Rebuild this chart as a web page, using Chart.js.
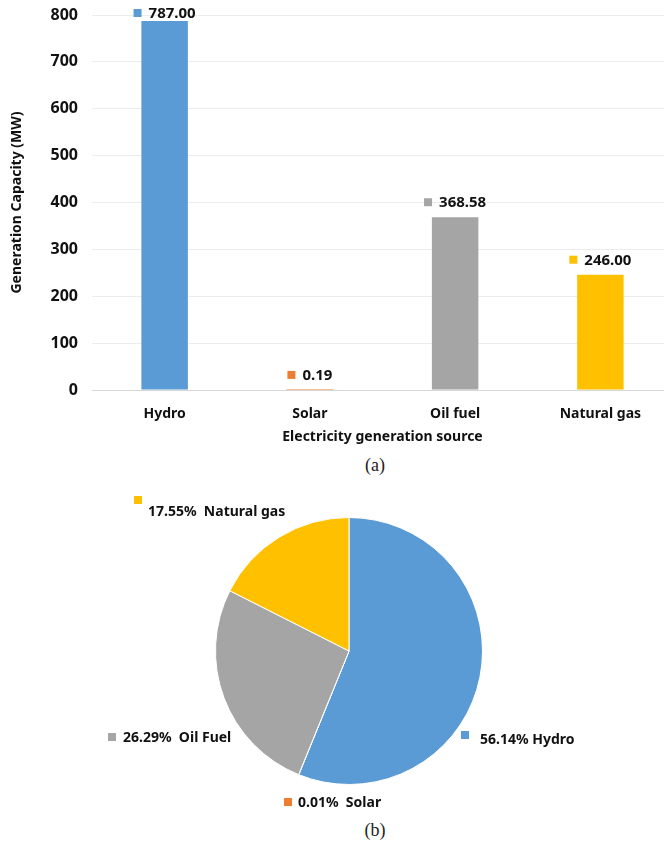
<!DOCTYPE html>
<html>
<head>
<meta charset="utf-8">
<script src="https://cdn.jsdelivr.net/npm/chart.js@4.4.0/dist/chart.umd.min.js"></script>
<style>
html,body{margin:0;padding:0;background:#fff;overflow:hidden;width:664px;height:841px;}
#wrap{position:relative;width:664px;height:841px;}
#barBox{position:absolute;left:0;top:0;width:675px;height:450px;}
#pieBox{position:absolute;left:0;top:470px;width:664px;height:345px;}
.cap{position:absolute;left:325px;width:100px;text-align:center;font-family:'Liberation Serif',serif;font-size:18px;line-height:20px;color:#222;}
</style>
</head>
<body>
<div id="wrap">
  <div id="barBox"><canvas id="barChart"></canvas></div>
  <div class="cap" style="top:455px">(a)</div>
  <div id="pieBox"><canvas id="pieChart"></canvas></div>
  <div class="cap" style="top:820px">(b)</div>
</div>
<script>
// data
const sources=['Hydro','Solar','Oil fuel','Natural gas'];
const pieNames=['Hydro','Solar','Oil Fuel','Natural gas'];
const capacityMW=[787.00,0.19,368.58,246.00];
const yTicks=[0,100,200,300,400,500,600,700,800];

const colors=['#5B9BD5','#ED7D31','#A5A5A5','#FFC000'];
const txt='#111';
const sans="'Noto Sans', sans-serif";

// bar value labels: small colour square + value
const barLabels={
  id:'barLabels',
  afterDatasetsDraw(chart){
    const ctx=chart.ctx, meta=chart.getDatasetMeta(0);
    ctx.save();
    ctx.font='bold 15px '+sans;
    ctx.textBaseline='middle';
    meta.data.forEach((bar,i)=>{
      const s=capacityMW[i].toFixed(2);
      const w=ctx.measureText(s).width;
      const total=8+7+w;
      const x0=bar.x-total/2;
      const y=Math.max(bar.y-14,chart.chartArea.top-1);
      ctx.fillStyle=colors[i];
      ctx.fillRect(x0,y-5,8,8);
      ctx.fillStyle=txt;
      ctx.textAlign='left';
      ctx.fillText(s,x0+15,y);
    });
    ctx.restore();
  }
};

new Chart(document.getElementById('barChart'),{
  type:'bar',
  data:{labels:sources,datasets:[{data:capacityMW,backgroundColor:colors,borderWidth:0,barPercentage:0.32,categoryPercentage:1}]},
  options:{
    responsive:true,maintainAspectRatio:false,animation:false,
    layout:{padding:{top:15,right:2,left:0,bottom:0}},
    plugins:{legend:{display:false},tooltip:{enabled:false}},
    scales:{
      x:{
        grid:{display:false},border:{display:false},
        ticks:{color:txt,font:{family:sans,size:14,weight:'bold'},padding:8},
        title:{display:true,text:'Electricity generation source',color:txt,font:{family:sans,size:14,weight:'bold'},padding:{top:0,bottom:5}},
        afterFit(s){s.height=60;s.paddingLeft=0;s.paddingRight=0;}
      },
      y:{
        min:0,max:800,
        afterBuildTicks(s){s.ticks=yTicks.map(v=>({value:v}));},
        grid:{color:c=>c.tick&&c.tick.value===0?'#d6d6d6':'#ececec',drawTicks:false,lineWidth:1},
        border:{display:false},
        ticks:{color:txt,font:{family:sans,size:16,weight:'bold'},padding:14},
        title:{display:true,text:'Generation Capacity (MW)',color:txt,font:{family:sans,size:14,weight:'bold'},padding:{top:9,bottom:0}},
        afterFit(s){s.width=92;s.paddingTop=0;s.paddingBottom=0;}
      }
    }
  },
  plugins:[barLabels]
});

// pie label placement relative to pie centre (layout only)
const pieLabelPos=[
  {dx:131,dy:89,sx:-15,sy:-5,sep:' '},
  {dx:-51,dy:152,sx:-10,sy:-1,sep:'  '},
  {dx:-226,dy:87,sx:-11,sy:-1,sep:'  '},
  {dx:-201,dy:-139,sx:-10,sy:-12,sep:'  '}
];
const pieLabels={
  id:'pieLabels',
  afterDatasetsDraw(chart){
    const ctx=chart.ctx, meta=chart.getDatasetMeta(0);
    const total=capacityMW.reduce((a,b)=>a+b,0);
    const cx=meta.data[0].x, cy=meta.data[0].y;
    ctx.save();
    ctx.font='bold 14px '+sans;
    ctx.textBaseline='middle';
    ctx.textAlign='left';
    pieNames.forEach((n,i)=>{
      const p=pieLabelPos[i];
      const pct=(capacityMW[i]/total*100).toFixed(2)+'%';
      const tx=cx+p.dx, ty=cy+p.dy;
      ctx.fillStyle=colors[i];
      ctx.fillRect(tx+p.sx-4,ty+p.sy-4,8,8);
      ctx.fillStyle=txt;
      ctx.fillText(pct+p.sep+n,tx,ty);
    });
    ctx.restore();
  }
};

new Chart(document.getElementById('pieChart'),{
  type:'pie',
  data:{labels:pieNames,datasets:[{data:capacityMW,backgroundColor:colors,borderColor:'#ffffff',borderWidth:1,hoverOffset:0}]},
  options:{
    responsive:true,maintainAspectRatio:false,animation:false,
    layout:{padding:{left:215,right:181,top:47,bottom:30}},
    plugins:{legend:{display:false},tooltip:{enabled:false}}
  },
  plugins:[pieLabels]
});
</script>
</body>
</html>
